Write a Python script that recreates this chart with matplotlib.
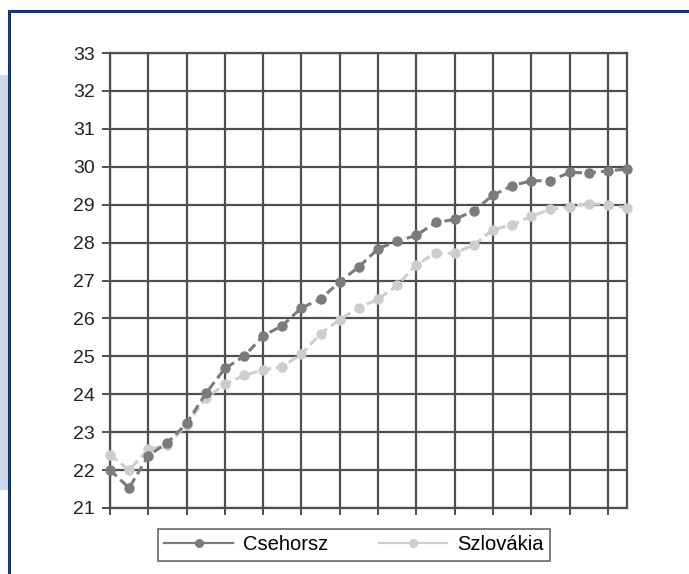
import matplotlib.pyplot as plt
from matplotlib.lines import Line2D
from matplotlib.patches import Rectangle
import numpy as np

# adatok (leolvasva)
csehorsz = [22.0, 21.53, 22.38, 22.72, 23.23, 24.02, 24.68, 25.0, 25.54, 25.81,
            26.28, 26.51, 26.97, 27.36, 27.84, 28.04, 28.19, 28.53, 28.61, 28.84,
            29.25, 29.5, 29.63, 29.63, 29.85, 29.84, 29.89, 29.94]
szlovakia = [22.4, 22.0, 22.55, 22.65, 23.2, 23.9, 24.26, 24.5, 24.64, 24.73,
             25.06, 25.6, 25.97, 26.28, 26.51, 26.87, 27.42, 27.72, 27.72, 27.94,
             28.34, 28.47, 28.69, 28.88, 28.94, 29.03, 29.0, 28.91]
series_names = ["Csehorsz", "Szlovákia"]
y_ticks = list(range(21, 34))

plt.rcParams['font.family'] = ['Liberation Sans', 'DejaVu Sans']

fig = plt.figure(figsize=(6.89, 5.74), dpi=100)
W, H = 689, 574
ax = fig.add_axes([110 / W, 1 - 508 / H, (627 - 110) / W, (508 - 53) / H])

x = np.arange(len(csehorsz))
grid_c = "#4f4f4f"

ax.plot(x, csehorsz, color="#7b7b7b", lw=2.2, ls=(0, (3, 1.6)),
        marker="o", ms=6.5, mec="#7b7b7b", zorder=4, clip_on=False)
ax.plot(x, szlovakia, color="#cdcdcd", lw=2.2, ls=(0, (3, 1.6)),
        marker="o", ms=6.5, mec="#cdcdcd", zorder=3, clip_on=False)

ax.set_xlim(0, len(x) - 1)
ax.set_ylim(21, 33)
ax.set_yticks(y_ticks)
ax.set_xticks(x[::2])
ax.set_xticklabels([])
ax.grid(True, color=grid_c, lw=1.6, zorder=1)
ax.set_axisbelow(True)
for s in ax.spines.values():
    s.set_color(grid_c)
    s.set_linewidth(1.6)
    s.set_zorder(1)
ax.tick_params(axis="y", length=6, width=1.4, color=grid_c, labelsize=14,
               labelcolor="#222222", pad=5)
ax.tick_params(axis="x", length=5, width=1.4, color=grid_c)

# legenda
handles = [Line2D([], [], color="#7b7b7b", lw=1.6, marker="o", ms=5.5),
           Line2D([], [], color="#cdcdcd", lw=1.6, marker="o", ms=5.5)]
leg = fig.legend(handles, series_names, loc="center",
                 bbox_to_anchor=(354 / W, 1 - 545 / H), ncol=2, fontsize=14.5,
                 frameon=True, fancybox=False, edgecolor="#444444",
                 handlelength=3.4, handletextpad=0.5, columnspacing=2.5,
                 borderpad=0.3)
leg.get_frame().set_linewidth(1.2)

# keret
fig.add_artist(Rectangle((0, 1 - 490 / H), 8 / W, (490 - 75) / H,
                         transform=fig.transFigure, color="#cdd8ea", lw=0))
fig.add_artist(Line2D([9 / W, 1], [1 - 10.5 / H] * 2, transform=fig.transFigure,
                      color="#0f3488", lw=2.2))
fig.add_artist(Line2D([9 / W] * 2, [0, 1 - 10.5 / H], transform=fig.transFigure,
                      color="#0f3488", lw=2.2))

fig.savefig("out.png", dpi=100)
